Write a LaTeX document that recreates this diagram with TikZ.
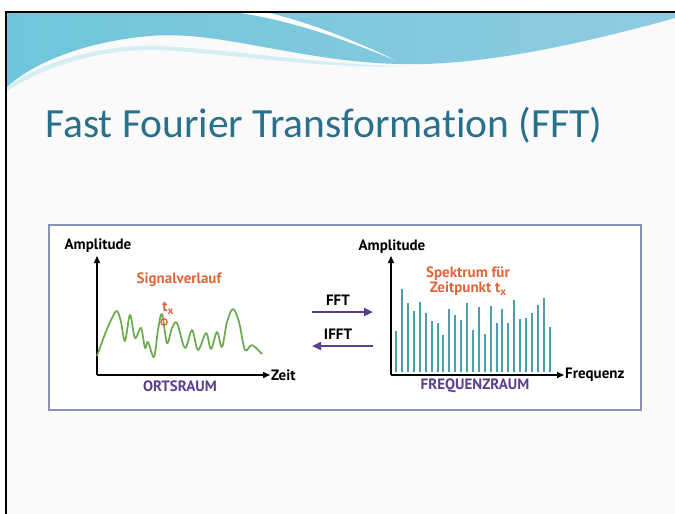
\documentclass[tikz,border=0pt]{standalone}
\usepackage{fontspec}
\setmainfont{Carlito}[Ligatures=CommonOff]
\newfontfamily\lblfont{PT Sans}
\usetikzlibrary{arrows.meta}
\definecolor{titlecol}{HTML}{28708C}
\definecolor{orng}{HTML}{E0663A}
\definecolor{purp}{HTML}{5B3F8C}
\definecolor{grn}{HTML}{6BAA4C}
\definecolor{barc}{HTML}{4A9FAA}
\definecolor{boxc}{HTML}{8A93B8}
\definecolor{slidebg}{HTML}{FAFAFA}
\definecolor{waveA}{HTML}{6FC6DA}
\definecolor{waveB}{HTML}{8FCBE2}
\begin{document}
\begin{tikzpicture}[x=1pt,y=-1pt,
  lbl/.style={font=\lblfont\bfseries\fontsize{15}{17}\selectfont},
  axis/.style={black, line width=1.4pt, -{Triangle[length=7pt,width=6pt]}},
  marrow/.style={purp, line width=2.6pt, -{Triangle[length=9pt,width=8pt]}},
  spbar/.style={barc, line width=1.8pt}]
\useasboundingbox (0,0) rectangle (675,514);
\fill[white] (0,0) rectangle (675,514);
\fill[slidebg] (6,12) rectangle (675,514);
% top wave
\shade[left color=waveA, right color=waveB]
  (6,12) -- (675,12) -- (675,18)
  .. controls (560,50) and (470,66) .. (400,64)
  .. controls (300,62) and (220,30) .. (150,36)
  .. controls (80,42) and (30,65) .. (6,88) -- cycle;
\fill[white] (235,12) .. controls (300,22) and (350,42) .. (395,60)
  .. controls (345,36) and (300,20) .. (265,12) -- cycle;
\fill[white!70!waveA] (6,88) .. controls (40,62) and (100,44) .. (160,46)
  .. controls (240,50) and (330,66) .. (410,66)
  .. controls (330,70) and (240,55) .. (160,50)
  .. controls (100,48) and (40,68) .. (6,92) -- cycle;
\draw[line width=1.5pt] (6,514) -- (6,12) -- (675,12);
% title
\node[anchor=base west, inner sep=0, text=titlecol, font=\fontsize{41.5}{46}\selectfont] (title) at (45,137) {Fast Fourier Transformation (FFT)};
% panel
\node[draw=boxc, line width=1.2pt, fill=white, minimum width=592pt, minimum height=185pt, inner sep=0] (panel) at (345,317.5) {};
% left chart
\coordinate (o1) at (97,375);
\coordinate (y1) at (97,256);
\coordinate (x1) at (270,375);
\draw[axis] (o1) -- (y1);
\draw[axis] (o1) -- (x1);
\node[lbl] (amp1) at (98,246) {Amplitude};
\node[lbl, anchor=west, inner sep=1pt] (zeit) at (x1) {Zeit};
\node[lbl, text=orng] (sig) at (179,280) {Signalverlauf};
\node[lbl, text=purp] (orts) at (180,386) {ORTSRAUM};
\draw[grn, line width=1.7pt, line join=round] plot[smooth, tension=0.55] coordinates {
 (97,356) (105,334) (112,318) (117,311) (121,322) (125,341) (130,315) (135,338)
 (141,328) (145,348) (148,342) (154,357) (158,330) (162,314) (167,343) (172,328)
 (177,323) (185,348) (192,330) (198,350) (206,333) (211,349) (217,332) (222,347)
 (227,322) (233,309) (239,322) (245,350) (252,345) (262,354)};
\node[circle, draw=orng, line width=1.3pt, inner sep=0, minimum size=6.5pt] (tx) at (164,322) {};
\node[lbl, text=orng] (txl) at (168,308) {t\raisebox{-3pt}{\fontsize{11}{11}\selectfont x}};
% middle arrows
\coordinate (fa) at (312,312);
\coordinate (fb) at (373,312);
\coordinate (ia) at (373,346);
\coordinate (ib) at (312,346);
\draw[marrow] (fa) -- (fb);
\draw[marrow] (ia) -- (ib);
\node[lbl] (fft) at (338,300) {FFT};
\node[lbl] (ifft) at (338,334) {IFFT};
% right chart
\coordinate (o2) at (391,375);
\coordinate (y2) at (391,256);
\coordinate (x2) at (564,375);
\foreach \xx/\t in {396/331,402/289.3,408/303.3,414/310.7,420/301.7,426/313.3,432/321,438/322.7,443/335,449/309.3,455/315,461/320,467/303.3,473/330,479/307.3,485/334.3,491/306,497/322.7,502/309.3,508/323.3,514/300,520/319.3,526/317.7,532/312.7,538/305,544/297.7,550/327.3}
  \draw[spbar] (\xx,372) -- (\xx,\t);
\draw[axis] (o2) -- (y2);
\draw[axis] (o2) -- (x2);
\node[lbl] (amp2) at (392,247) {Amplitude};
\node[lbl, anchor=west, inner sep=1pt] (freq) at (x2) {Frequenz};
\node[lbl, text=orng, align=center, inner sep=0] (spek) at (468,281) {Spektrum für\\[-2pt]Zeitpunkt t\raisebox{-3pt}{\fontsize{11}{11}\selectfont x}};
\node[lbl, text=purp] (frq) at (475,386) {FREQUENZRAUM};
\end{tikzpicture}
\end{document}
